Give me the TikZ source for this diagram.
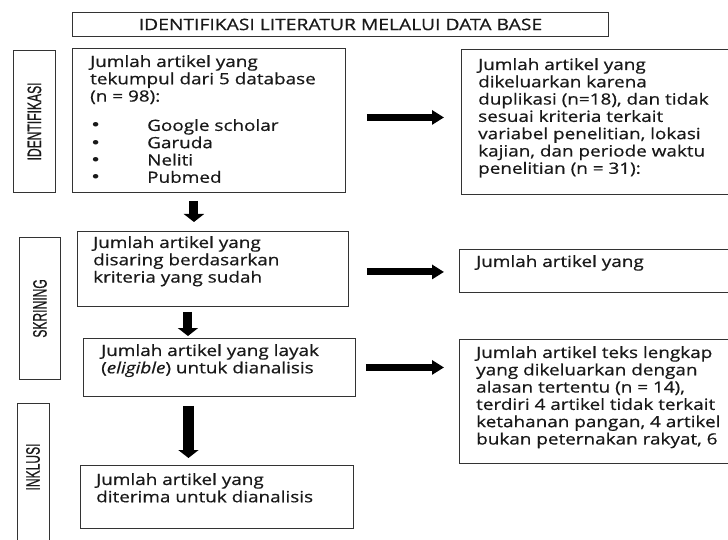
\documentclass[tikz,border=0pt]{standalone}
\usepackage{fontspec}
\setmainfont{Open Sans}
\newfontfamily\boxfont[FakeStretch=1.22,FakeBold=0.6]{Open Sans}
\newfontfamily\bulletfont[FakeStretch=1.22]{DejaVu Sans}
\newfontfamily\sidefont[FakeBold=0.8]{Liberation Sans}
\usetikzlibrary{arrows.meta,calc}

\newcommand{\narrowtext}[1]{\scalebox{0.62}[1]{#1}}
\newcommand{\itembullet}{\makebox[57pt][l]{{\bulletfont •}}}

\tikzset{
  box/.style={draw=black!80, line width=0.9pt, anchor=north west, inner sep=0pt},
  boxtext/.style={anchor=north west, inner sep=0pt, align=left, text=black!90,
    font=\boxfont\fontsize{15.5}{17.3}\selectfont},
  sidelabel/.style={rotate=90, inner sep=0pt, text=black!90,
    font=\sidefont\fontsize{19.5}{19.5}\selectfont},
  downarrow/.style={line width=9pt, -{Triangle[length=8pt,width=20pt]}},
  rightarrow/.style={line width=7pt, -{Triangle[length=12pt,width=14pt]}}
}

\begin{document}
\begin{tikzpicture}[x=1pt,y=-1pt]
    \useasboundingbox (0,0) rectangle (728,540);
    \clip (0,0) rectangle (728,540);

    % Title
    \node[box, minimum width=536pt, minimum height=24pt,
          font=\boxfont\fontsize{15.8}{15.8}\selectfont, text=black!90] (title) at (72,12)
          {IDENTIFIKASI LITERATUR MELALUI DATA BASE};

    % Stage labels on the left
    \node[box, minimum width=42pt, minimum height=142pt] (sideA) at (13,50) {};
    \node[sidelabel] (sideAtext) at (sideA.center) {\narrowtext{IDENTIFIKASI}};
    \node[box, minimum width=41pt, minimum height=142pt] (sideB) at (19,237) {};
    \node[sidelabel] (sideBtext) at (sideB.center) {\narrowtext{SKRINING}};
    \node[box, minimum width=32pt, minimum height=160pt] (sideC) at (17,403) {};
    \node[sidelabel] (sideCtext) at (17+16,467) {\narrowtext{INKLUSI}};

    % Main boxes
    \node[box, minimum width=273pt, minimum height=144pt] (box1) at (72,48) {};
    \node[boxtext] (box1text) at ([shift={(18pt,-7pt)}]box1.north west)
        {Jumlah artikel yang\\ tekumpul dari 5 database\\ (n = 98):\\[12pt]
         \itembullet Google scholar\\ \itembullet Garuda\\
         \itembullet Neliti\\ \itembullet Pubmed};

    \node[box, minimum width=271pt, minimum height=75pt] (box2) at (77,231) {};
    \node[boxtext] (box2text) at ([shift={(16pt,-5pt)}]box2.north west)
        {Jumlah artikel yang\\ disaring berdasarkan\\ kriteria yang sudah};

    \node[box, minimum width=272pt, minimum height=58pt] (box3) at (83,338) {};
    \node[boxtext] (box3text) at ([shift={(18pt,-6pt)}]box3.north west)
        {Jumlah artikel yang layak\\ (\textit{eligible}) untuk dianalisis};

    \node[box, minimum width=273pt, minimum height=63pt] (box4) at (80,465) {};
    \node[boxtext] (box4text) at ([shift={(16pt,-8pt)}]box4.north west)
        {Jumlah artikel yang\\ diterima untuk dianalisis};

    % Boxes on the right (cut at the edge)
    \node[box, minimum width=290pt, minimum height=145pt] (rbox1) at (461,49) {};
    \node[boxtext] (rbox1text) at ([shift={(17pt,-9pt)}]rbox1.north west)
        {Jumlah artikel yang\\ dikeluarkan karena\\ duplikasi (n=18), dan tidak\\
         sesuai kriteria terkait\\ variabel penelitian, lokasi\\
         kajian, dan periode waktu\\ penelitian (n = 31):};

    \node[box, minimum width=290pt, minimum height=43pt] (rbox2) at (459,249) {};
    \node[boxtext] (rbox2text) at ([shift={(17pt,-6pt)}]rbox2.north west)
        {Jumlah artikel yang};

    \node[box, minimum width=290pt, minimum height=124pt] (rbox3) at (459,339) {};
    \node[boxtext] (rbox3text) at ([shift={(17pt,-7pt)}]rbox3.north west)
        {Jumlah artikel teks lengkap\\ yang dikeluarkan dengan\\
         alasan tertentu (n = 14),\\ terdiri 4 artikel tidak terkait\\
         ketahanan pangan, 4 artikel\\ bukan peternakan rakyat, 6};

    % Down arrows
    \draw[downarrow, shorten <=8pt, shorten >=9pt]
        ([xshift=-15pt]box1.south) -- ([xshift=-15pt]box1.south |- box2.north);
    \draw[downarrow, shorten <=5pt, shorten >=2pt]
        ([xshift=-25pt]box2.south) -- ([xshift=-25pt]box2.south |- box3.north);
    \draw[downarrow, line width=11pt, shorten <=9pt, shorten >=7pt]
        ([xshift=-31pt]box3.south) -- ([xshift=-31pt]box3.south |- box4.north);

    % Right arrows
    \draw[rightarrow, shorten <=21pt, shorten >=17pt]
        ([yshift=3pt]box1.east) -- ([yshift=3pt]box1.east -| rbox1.west);
    \draw[rightarrow, shorten <=18pt, shorten >=15pt]
        ([yshift=-3pt]box2.east) -- ([yshift=-3pt]box2.east -| rbox2.west);
    \draw[rightarrow, shorten <=10pt, shorten >=15pt]
        (box3.east) -- (box3.east -| rbox3.west);
\end{tikzpicture}
\end{document}
